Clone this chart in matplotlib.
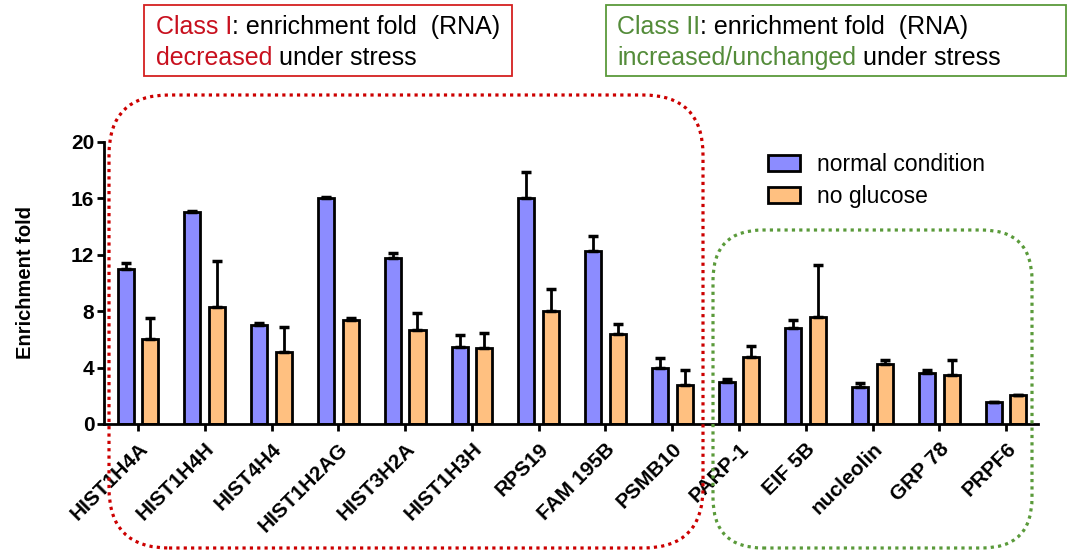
import matplotlib.pyplot as plt
import matplotlib.patches as mpatches
import numpy as np

plt.rcParams['font.family'] = ['Liberation Sans', 'DejaVu Sans']

genes = ["HIST1H4A", "HIST1H4H", "HIST4H4", "HIST1H2AG", "HIST3H2A", "HIST1H3H",
         "RPS19", "FAM 195B", "PSMB10", "PARP-1", "EIF 5B", "nucleolin", "GRP 78", "PRPF6"]
normal = [11.0, 15.0, 7.0, 16.05, 11.8, 5.45, 16.0, 12.25, 4.0, 3.0, 6.8, 2.65, 3.6, 1.55]
normal_err = [0.45, 0.12, 0.15, 0.05, 0.35, 0.85, 1.85, 1.05, 0.7, 0.2, 0.6, 0.28, 0.2, 0.0]
no_glucose = [6.05, 8.3, 5.1, 7.4, 6.7, 5.4, 8.0, 6.4, 2.8, 4.75, 7.6, 4.25, 3.5, 2.07]
no_glucose_err = [1.5, 3.25, 1.8, 0.15, 1.2, 1.05, 1.55, 0.67, 1.05, 0.8, 3.7, 0.27, 1.05, 0.0]

blue = '#8c8cff'
orange = '#ffc080'
red = '#c8101e'
green = '#548c3a'

fig = plt.figure(figsize=(10.7, 5.52), dpi=100)
ax = fig.add_axes([0.0972, 0.2319, 0.873, 0.5109])

x = np.arange(len(genes))
w = 0.24
err_kw = dict(ecolor='black', elinewidth=2, capsize=3.5, capthick=2.5)
zeros = np.zeros(len(genes))
ax.bar(x - 0.185, normal, w, color=blue, edgecolor='black', linewidth=2,
       yerr=[zeros, normal_err], error_kw=err_kw, label='normal condition')
ax.bar(x + 0.185, no_glucose, w, color=orange, edgecolor='black', linewidth=2,
       yerr=[zeros, no_glucose_err], error_kw=err_kw, label='no glucose')

ax.set_xlim(-0.51, 13.48)
ax.set_ylim(0, 20)
ax.set_yticks([0, 4, 8, 12, 16, 20])
ax.set_xticks(x)
ax.set_xticklabels(genes, rotation=45, ha='right', rotation_mode='anchor',
                   fontsize=15, fontweight='bold')
for lab in ax.get_yticklabels():
    lab.set_fontsize(15)
    lab.set_fontweight('bold')
ax.tick_params(axis='both', width=2, length=5, direction='out')
ax.tick_params(axis='x', pad=6)
ax.tick_params(axis='y', pad=2)
for s in ['top', 'right']:
    ax.spines[s].set_visible(False)
for s in ['left', 'bottom']:
    ax.spines[s].set_linewidth(2)
ax.set_ylabel('Enrichment fold', fontsize=14.5, fontweight='bold', labelpad=26)

ax.legend(loc='upper left', bbox_to_anchor=(0.701, 0.995), frameon=False,
          fontsize=16.5, handlelength=1.4, handleheight=0.7, labelspacing=0.4,
          handletextpad=0.75, borderaxespad=0)

# dotted rounded frames around the two gene classes (inches)
red_box = mpatches.FancyBboxPatch((1.09 + 0.6, 0.04 + 0.6), 7.03 - 1.09 - 1.2, 4.57 - 0.04 - 1.2,
                                  boxstyle='round,pad=0.6', transform=fig.dpi_scale_trans,
                                  fill=False, edgecolor='#cc0000', linewidth=2.3,
                                  linestyle=(0, (1, 1.3)), clip_on=False)
green_box = mpatches.FancyBboxPatch((7.13 + 0.5, 0.04 + 0.5), 10.32 - 7.13 - 1.0, 3.22 - 0.04 - 1.0,
                                    boxstyle='round,pad=0.5', transform=fig.dpi_scale_trans,
                                    fill=False, edgecolor='#5a9a3a', linewidth=2.3,
                                    linestyle=(0, (1, 1.3)), clip_on=False)
fig.patches.extend([red_box, green_box])

# class header boxes
hdr1 = mpatches.Rectangle((1.44, 4.76), 3.68, 0.71, transform=fig.dpi_scale_trans,
                          fill=False, edgecolor='#d42020', linewidth=1.3)
hdr2 = mpatches.Rectangle((6.06, 4.76), 4.6, 0.71, transform=fig.dpi_scale_trans,
                          fill=False, edgecolor='#5a9a3a', linewidth=1.3)
fig.patches.extend([hdr1, hdr2])


def header(x0, y0, parts):
    xx = x0
    for s, c in parts:
        t = fig.text(xx, y0, s, fontsize=18, va='center', color=c)
        fig.canvas.draw()
        bb = t.get_window_extent()
        xx = xx + bb.width / fig.bbox.width


header(0.1458, 1 - 27 / 552, [("Class I", red), (": enrichment fold  (RNA)", 'black')])
header(0.1458, 1 - 58 / 552, [("decreased", red), (" under stress", 'black')])
header(0.5766, 1 - 27 / 552, [("Class II", green), (": enrichment fold  (RNA)", 'black')])
header(0.5766, 1 - 58 / 552, [("increased/unchanged", green), (" under stress", 'black')])

fig.savefig('out.png', dpi=100)
